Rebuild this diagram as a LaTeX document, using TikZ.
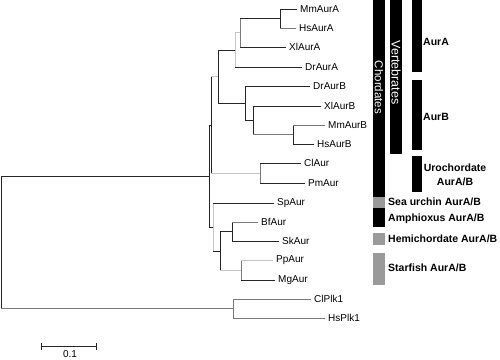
\documentclass[tikz,border=0pt]{standalone}
\usepackage{fontspec}
\setmainfont{Liberation Sans}
\usepackage{xcolor}
\definecolor{brdark}{HTML}{262626}
\definecolor{brmid}{HTML}{7A7A7A}
\definecolor{brlight}{HTML}{C6C6C6}
\definecolor{bargray}{HTML}{9A9A9A}
\usepackage{tikz}
\usetikzlibrary{arrows.meta}
\tikzset{
  br/.style  ={line width=0.9pt, draw=brdark, line cap=rect},
  brm/.style ={br, draw=brmid},
  brl/.style ={br, draw=brlight},
  leaf/.style={anchor=west, inner xsep=3pt, inner ysep=0pt, font=\fontsize{10}{12}\selectfont},
  grp/.style ={anchor=west, inner sep=1pt, align=center, font=\fontsize{10.5}{14}\selectfont\bfseries},
  blk/.style ={fill=black},
  gry/.style ={fill=bargray},
  vlab/.style={text=white, rotate=-90, inner sep=0pt},
}

\begin{document}
\begin{tikzpicture}[x=1pt, y=-1pt]
  \useasboundingbox (0,0) rectangle (500,359);
  % leaves
  \node[leaf] (MmAurA) at (297,9)   {MmAurA};
  \node[leaf] (HsAurA) at (296,28)  {HsAurA};
  \node[leaf] (XlAurA) at (286,47)  {XlAurA};
  \node[leaf] (DrAurA) at (302,67)  {DrAurA};
  \node[leaf] (DrAurB) at (310,86)  {DrAurB};
  \node[leaf] (XlAurB) at (321,106) {XlAurB};
  \node[leaf] (MmAurB) at (325,125) {MmAurB};
  \node[leaf] (HsAurB) at (314,144) {HsAurB};
  \node[leaf] (ClAur)  at (301,163) {ClAur};
  \node[leaf] (PmAur)  at (305,183) {PmAur};
  \node[leaf] (SpAur)  at (274,203) {SpAur};
  \node[leaf] (BfAur)  at (258,222) {BfAur};
  \node[leaf] (SkAur)  at (279,241) {SkAur};
  \node[leaf] (PpAur)  at (273,260) {PpAur};
  \node[leaf] (MgAur)  at (275,280) {MgAur};
  \node[leaf] (ClPlk)  at (311,299) {ClPlk1};
  \node[leaf] (HsPlk)  at (325,318) {HsPlk1};
  % internal nodes
  \coordinate (root)   at (1,242.5);
  \coordinate (nAur)   at (209,176);
  \coordinate (nChord) at (211,125);
  \coordinate (nVert)  at (218,76.5);
  \coordinate (nAurA)  at (235,50);
  \coordinate (nA2)    at (240,32.75);
  \coordinate (nA3)    at (280,18.5);
  \coordinate (nAurB)  at (245,103);
  \coordinate (nB2)    at (253,120);
  \coordinate (nB3)    at (293,134.5);
  \coordinate (nUro)   at (260,173);
  \coordinate (nNon)   at (213,227);
  \coordinate (nN2)    at (220,251);
  \coordinate (nN3)    at (232,231.5);
  \coordinate (nN4)    at (241,270);
  \coordinate (nPlk)   at (233,308.5);
  % verticals
  \draw[br]  (root |- nAur) -- (root |- nPlk);
  \draw[br]  (nAur |- nChord) -- (nAur |- nNon);
  \draw[br]  (nChord |- nVert) -- (nChord |- nUro);
  \draw[br]  (nVert |- nAurA) -- (nVert |- nAurB);
  \draw[brl] (nAurA |- nA2) -- (nAurA |- DrAurA.west);
  \draw[brm] (nA2 |- nA3) -- (nA2 |- XlAurA.west);
  \draw[br]  (nA3 |- MmAurA.west) -- (nA3 |- HsAurA.west);
  \draw[br]  (nAurB |- DrAurB.west) -- (nAurB |- nB2);
  \draw[br]  (nB2 |- XlAurB.west) -- (nB2 |- nB3);
  \draw[br]  (nB3 |- MmAurB.west) -- (nB3 |- HsAurB.west);
  \draw[brm] (nUro |- ClAur.west) -- (nUro |- PmAur.west);
  \draw[brl] (nNon |- SpAur.west) -- (nNon |- nN2);
  \draw[br]  (nN2 |- nN3) -- (nN2 |- nN4);
  \draw[br]  (nN3 |- BfAur.west) -- (nN3 |- SkAur.west);
  \draw[brm] (nN4 |- PpAur.west) -- (nN4 |- MgAur.west);
  \draw[brm] (nPlk |- ClPlk.west) -- (nPlk |- HsPlk.west);
  % horizontals
  \draw[br]  (nAur -| root) -- (nAur);
  \draw[brm] (nPlk -| root) -- (nPlk);
  \draw[br]  (nChord -| nAur) -- (nChord);
  \draw[br]  (nNon -| nAur) -- (nNon);
  \draw[brl] (nVert -| nChord) -- (nVert);
  \draw[brl] (nUro -| nChord) -- (nUro);
  \draw[br]  (nAurA -| nVert) -- (nAurA);
  \draw[br]  (nAurB -| nVert) -- (nAurB);
  \draw[brl] (nA2 -| nAurA) -- (nA2);
  \draw[br]  (DrAurA.west -| nAurA) -- (DrAurA.west);
  \draw[br]  (nA3 -| nA2) -- (nA3);
  \draw[br]  (XlAurA.west -| nA2) -- (XlAurA.west);
  \draw[br]  (MmAurA.west -| nA3) -- (MmAurA.west);
  \draw[brm] (HsAurA.west -| nA3) -- (HsAurA.west);
  \draw[br]  (DrAurB.west -| nAurB) -- (DrAurB.west);
  \draw[br]  (nB2 -| nAurB) -- (nB2);
  \draw[br]  (XlAurB.west -| nB2) -- (XlAurB.west);
  \draw[brm] (nB3 -| nB2) -- (nB3);
  \draw[brm] (MmAurB.west -| nB3) -- (MmAurB.west);
  \draw[br]  (HsAurB.west -| nB3) -- (HsAurB.west);
  \draw[br]  (ClAur.west -| nUro) -- (ClAur.west);
  \draw[br]  (PmAur.west -| nUro) -- (PmAur.west);
  \draw[br]  (SpAur.west -| nNon) -- (SpAur.west);
  \draw[br]  (nN2 -| nNon) -- (nN2);
  \draw[br]  (nN3 -| nN2) -- (nN3);
  \draw[brl] (nN4 -| nN2) -- (nN4);
  \draw[brm] (BfAur.west -| nN3) -- (BfAur.west);
  \draw[br]  (SkAur.west -| nN3) -- (SkAur.west);
  \draw[brl] (PpAur.west -| nN4) -- (PpAur.west);
  \draw[br]  (MgAur.west -| nN4) -- (MgAur.west);
  \draw[brm] (ClPlk.west -| nPlk) -- (ClPlk.west);
  \draw[brm] (HsPlk.west -| nPlk) -- (HsPlk.west);
  % group bars
  \fill[blk] (373,0) rectangle (385,197);
  \fill[gry] (373,197) rectangle (385,208);
  \fill[blk] (373,208) rectangle (385,227);
  \fill[gry] (373,233) rectangle (385,245);
  \fill[gry] (373,253) rectangle (385,285);
  \fill[blk] (390,0) rectangle (402,154);
  \fill[blk] (412,0) rectangle (422,72);
  \fill[blk] (412,80) rectangle (422,150);
  \fill[blk] (412,156) rectangle (422,192);
  \node[vlab, font=\fontsize{11.5}{12}\selectfont] (lChord) at (379,87.5) {Chordates};
  \node[vlab, font=\fontsize{12.5}{13}\selectfont] (lVert) at (396,72.5) {Vertebrates};
  \node[grp] (lAurA) at (422,42) {AurA};
  \node[grp] (lAurB) at (422,117) {AurB};
  \node[grp, anchor=center] (lUro) at (455,175) {Urochordate\\AurA/B};
  \node[grp] (lSea) at (387,202) {Sea urchin AurA/B};
  \node[grp] (lAmph) at (387,219) {Amphioxus AurA/B};
  \node[grp] (lHemi) at (387,239) {Hemichordate AurA/B};
  \node[grp] (lStar) at (387,268) {Starfish AurA/B};
  % scale
  \coordinate (sb0) at (41,346.5);
  \coordinate (sb1) at (97,346.5);
  \draw[br, line cap=butt, {Bar[width=7pt]}-{Bar[width=7pt]}] (sb0) -- (sb1);
  \node[font=\fontsize{10}{12}\selectfont, inner sep=0pt] (sblab) at (70,354) {0.1};
\end{tikzpicture}
\end{document}
